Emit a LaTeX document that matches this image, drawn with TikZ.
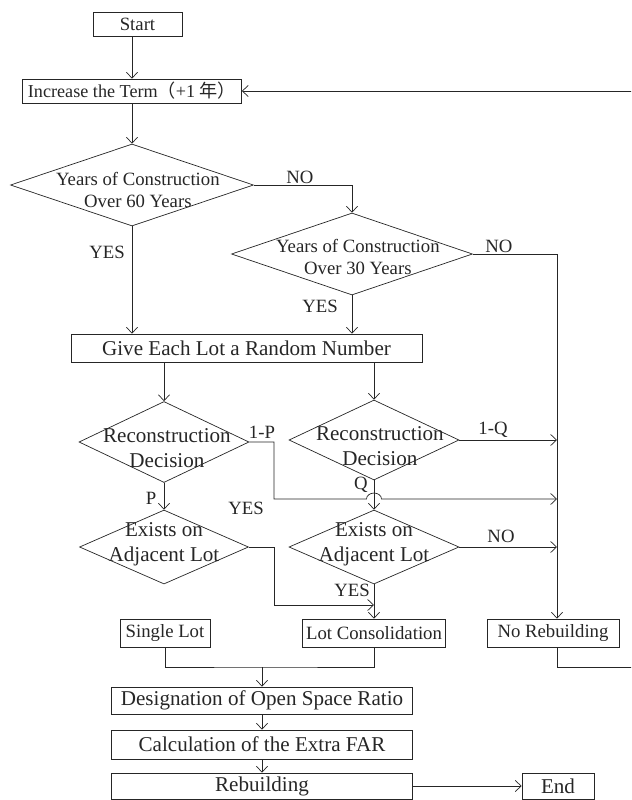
\documentclass[tikz,border=0pt]{standalone}
\usepackage{fontspec}
\setmainfont{Liberation Serif}
\newfontfamily\cjk{Noto Sans CJK SC}
\usetikzlibrary{arrows.meta,shapes.geometric}

\begin{document}
\begin{tikzpicture}
  [x=0.03cm, y=-0.03cm, line width=0.6pt, color=black!85,
   every node/.style={font=\fontsize{16}{19}\selectfont},
   big/.style={font=\fontsize{18}{21}\selectfont},
   box/.style={draw, rectangle, inner sep=0pt},
   decision/.style={draw, diamond, inner sep=0pt},
   >={Straight Barb[length=5pt,width=9.5pt]}]
  \useasboundingbox (0,0) rectangle (631,800);
  \clip (0,0) rectangle (631,800);

  \node[box, minimum width=2.67cm, minimum height=0.72cm] (start) at (137.5,24) {Start};
  \node[box, minimum width=6.57cm, minimum height=0.72cm, font=\fontsize{15.5}{18}\selectfont] (inc) at (132,91) {Increase the Term{\cjk （}+1 {\cjk 年）}};
  \node[decision, minimum width=7.29cm, minimum height=2.46cm,
        label={[align=center, xshift=5pt, yshift=-4pt]center:Years of Construction\\Over 60 Years}] (d60) at (132,185) {};
  \node[decision, minimum width=7.23cm, minimum height=2.46cm,
        label={[align=center, xshift=5pt, yshift=-2.5pt]center:Years of Construction\\Over 30 Years}] (d30) at (352,254) {};
  \node[box, big, minimum width=10.53cm, minimum height=0.84cm] (give) at (246.5,348) {Give Each Lot a Random Number};
  \node[decision, minimum width=5.1cm, minimum height=2.43cm,
        label={[big, align=center, xshift=2.5pt, yshift=-5pt]center:Reconstruction\\Decision}] (recL) at (164,442) {};
  \node[decision, minimum width=5.1cm, minimum height=2.4cm,
        label={[big, align=center, xshift=5pt, yshift=-5pt]center:Reconstruction\\Decision}] (recR) at (374,440) {};
  \node[decision, minimum width=5.07cm, minimum height=2.22cm,
        label={[big, align=center, yshift=2.5pt]center:Exists on\\Adjacent Lot}] (exL) at (164,547) {};
  \node[decision, minimum width=5.1cm, minimum height=2.22cm,
        label={[big, align=center, yshift=2.5pt]center:Exists on\\Adjacent Lot}] (exR) at (374,547) {};
  \node[box, minimum width=2.7cm, minimum height=0.84cm] (single) at (165,633) {Single Lot};
  \node[box, minimum width=4.29cm, minimum height=0.84cm] (lotc) at (374,633) {Lot Consolidation};
  \node[box, minimum width=3.96cm, minimum height=0.84cm] (norb) at (553,633) {No Rebuilding};
  \node[box, big, minimum width=9.03cm, minimum height=0.81cm] (desig) at (262,700.5) {Designation of Open Space Ratio};
  \node[box, big, minimum width=9.03cm, minimum height=0.87cm] (calc) at (262,744.5) {Calculation of the Extra FAR};
  \node[box, big, minimum width=9.03cm, minimum height=0.78cm] (rebuild) at (262,786) {Rebuilding};
  \node[box, big, minimum width=2.16cm, minimum height=0.78cm] (end) at (558,786) {End};

  \node (no60) at (300,177) {NO};
  \node (yes60) at (107,252) {YES};
  \node (no30) at (499,246) {NO};
  \node (yes30) at (320,306) {YES};
  \node (notP) at (262,432) {1-P};
  \node (notQ) at (493,430) {1-Q};
  \node (qL) at (361,485) {Q};
  \node (pL) at (151,498) {P};
  \node (yesL) at (246,508) {YES};
  \node (noR) at (501,536) {NO};
  \node (yesR) at (352,590) {YES};

  \coordinate (col) at (557,0);
  \coordinate (edge) at (634,0);
  \coordinate (jog) at (274,0);
  \coordinate (jump) at (374,499);
  \coordinate (tee) at (374,605);
  \coordinate (merge) at (262,667);

  \draw[->] (start.south -| inc) -- (inc.north);
  \draw[->] (inc.south) -- (d60.north);
  \draw[->] (d60.east) -| (d30.north);
  \draw[->] (d60.south) -- (d60.south |- give.north);
  \draw[->] (d30.south) -- (d30.south |- give.north);
  \draw[->] (d30.east) -| (col |- norb.north);
  \draw[->] (give.south -| recL.north) -- (recL.north);
  \draw[->] (give.south -| recR.north) -- (recR.north);
  \draw[->] (recR.east) -- (col |- recR.east);
  \draw[->] (recL.east) -- (jog |- recL.east) -- (jog |- jump) -- ([xshift=-6.4pt]jump)
    arc[start angle=180, end angle=0, x radius=6.4pt, y radius=5.1pt] -- (col |- jump);
  \draw[->] (recL.south) -- (exL.north);
  \draw[->] (recR.south) -- (exR.north);
  \draw[->] (exR.east) -- (col |- exR.east);
  \draw[->] (exL.east) -| (jog |- tee) -- (tee);
  \draw[->] (exR.south) -- (lotc.north);
  \draw (single.south) |- (merge) -| (lotc.south);
  \draw[->] (merge) -- (desig.north);
  \draw[->] (desig.south) -- (calc.north);
  \draw[->] (calc.south) -- (rebuild.north);
  \draw[->] (rebuild.east) -- (end.west);
  \draw[->] (col |- norb.south) |- (edge |- merge) |- (inc.east);
\end{tikzpicture}
\end{document}
